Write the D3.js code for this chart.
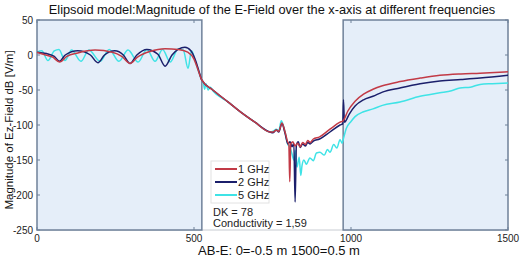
<!DOCTYPE html>
<html lang="en">
<head>
<meta charset="UTF-8">
<title>Elipsoid model E-Field</title>
<script src="https://d3js.org/d3.v7.min.js"></script>
<style>
  body { margin: 0; background: #fff; font-family: Arial, "Liberation Sans", sans-serif; }
  svg { display: block; }
  .tick-label { font-size: 10px; fill: #222; }
</style>
</head>
<body>
<svg id="svg" width="524" height="259"></svg>
<script>
// x positions (0..1500 along AB-E) and dB values for each frequency
const red1GHz = [
  [0,4],[20,1],[50,-3],[72,-10],[95,-2],[130,3],[185,7],[240,4],[270,-2],[296,-12],[320,-3],
  [360,5],[408,9],[450,8],[480,4],[500,-6],[512,-20],[525,-36],
  [560,-50],[608,-67],[650,-82],[694,-96],[742,-110],[752,-110],[762,-107],[770,-109],[780,-97],
  [790,-110],[799,-125],[802,-127],[805,-181],[808,-127],[815,-124],[822,-130],[830,-126],[838,-131],
  [846,-125],[855,-128],[862,-122],[870,-125],[880,-120],[900,-117],[933,-106],[965,-96],[975,-94],
  [990,-80],[1013,-66],[1040,-56],[1070,-49],[1100,-44],[1156,-38],[1220,-33],[1283,-29],[1350,-27],
  [1411,-26],[1500,-24]
];
const navy2GHz = [
  [0,4],[30,2],[55,-2],[72,-9],[90,0],[130,6],[170,0],[194,-11],[215,0],[248,6],[275,0],[296,-12],
  [318,0],[350,8],[385,1],[408,-16],[430,0],[471,11],[490,6],[505,-8],[515,-22],[525,-36],
  [560,-50],[608,-67],[650,-82],[694,-96],[742,-110],[752,-111],[762,-107],[770,-110],[780,-98],
  [790,-112],[799,-127],[806,-124],[812,-131],[818,-126],[822,-210],[826,-129],[832,-124],[838,-132],
  [846,-127],[855,-130],[862,-125],[870,-127],[880,-123],[900,-120],[933,-110],[965,-100],[974,-98],
  [976,-64],[979,-96],[995,-84],[1013,-73],[1040,-64],[1070,-59],[1100,-53],[1156,-47],[1220,-41],
  [1283,-37],[1350,-35],[1411,-33],[1500,-29]
];
const cyan5GHz = [
  [0,4],[15,6],[35,-8],[55,6],[70,8],[89,-8],[110,7],[140,-9],[165,7],[201,-9],[230,8],[261,-9],
  [290,7],[322,-10],[350,8],[376,-9],[400,8],[424,-10],[450,9],[466,7],[481,-19],[492,6],[505,-10],
  [515,-24],[525,-36],[530,-40],[534,-49],[538,-41],[545,-50],[552,-46],
  [560,-51],[608,-67],[650,-82],[694,-96],[742,-110],[752,-109],[762,-106],[770,-108],[778,-94],
  [790,-110],[799,-128],[805,-131],[812,-141],[818,-150],[822,-136],[828,-160],[835,-146],[840,-172],
  [844,-158],[850,-150],[858,-156],[869,-147],[880,-151],[890,-140],[901,-139],[915,-143],[925,-135],
  [933,-139],[945,-128],[955,-133],[965,-121],[972,-126],[975,-121],[985,-105],[1000,-95],[1013,-88],
  [1040,-81],[1070,-77],[1100,-72],[1156,-67],[1220,-59],[1283,-54],[1320,-51],[1347,-47],[1380,-46],
  [1411,-42],[1450,-41],[1500,-40]
];
const seriesNames = ["1 GHz", "2 GHz", "5 GHz"];
const seriesColors = ["#c23a46", "#1b1f6b", "#3fe3e6"];
const boxRanges = [[0, 525], [975, 1500]];
const xTicks = [0, 500, 1000, 1500];
const yTicks = [50, 0, -50, -100, -150, -200, -250];

const svg = d3.select("#svg");
const margin = { top: 20, right: 16, bottom: 29, left: 37 };
const width = 524, height = 259;

const x = d3.scaleLinear().domain([0, 1500]).range([margin.left, width - margin.right]);
const y = d3.scaleLinear().domain([-250, 50]).range([height - margin.bottom, margin.top]);

// title
svg.append("text")
  .attr("x", 272).attr("y", 14)
  .attr("text-anchor", "middle")
  .attr("font-size", "12.8px")
  .attr("fill", "#111")
  .text("Elipsoid model:Magnitude of the E-Field over the x-axis at different frequencies");

// bottom axis line (faint)
svg.append("line")
  .attr("x1", x(0)).attr("x2", x(1500))
  .attr("y1", y(-250)).attr("y2", y(-250))
  .attr("stroke", "#c8ccd2").attr("stroke-width", 1);

// shaded boxes
svg.selectAll("rect.box")
  .data(boxRanges)
  .enter().append("rect")
  .attr("class", "box")
  .attr("x", d => x(d[0]))
  .attr("y", y(50))
  .attr("width", d => x(d[1]) - x(d[0]))
  .attr("height", y(-250) - y(50))
  .attr("fill", "#e5eef9")
  .attr("stroke", "#6f8199")
  .attr("stroke-width", 1.5);

// inner ticks on all sides (matlab style)
const tickLen = 3;
xTicks.forEach(t => {
  svg.append("line").attr("x1", x(t)).attr("x2", x(t))
    .attr("y1", y(-250)).attr("y2", y(-250) - tickLen).attr("stroke", "#6f8199");
  svg.append("line").attr("x1", x(t)).attr("x2", x(t))
    .attr("y1", y(50)).attr("y2", y(50) + tickLen).attr("stroke", "#6f8199");
});
yTicks.forEach(t => {
  svg.append("line").attr("x1", x(0)).attr("x2", x(0) + tickLen)
    .attr("y1", y(t)).attr("y2", y(t)).attr("stroke", "#6f8199");
  svg.append("line").attr("x1", x(1500)).attr("x2", x(1500) - tickLen)
    .attr("y1", y(t)).attr("y2", y(t)).attr("stroke", "#6f8199");
});

// tick labels
svg.selectAll("text.xt")
  .data(xTicks)
  .enter().append("text")
  .attr("class", "tick-label")
  .attr("x", d => x(d))
  .attr("y", y(-250) + 12)
  .attr("text-anchor", "middle")
  .text(d => d);

svg.selectAll("text.yt")
  .data(yTicks)
  .enter().append("text")
  .attr("class", "tick-label")
  .attr("x", x(0) - 4)
  .attr("y", d => y(d) + 3.5)
  .attr("text-anchor", "end")
  .text(d => d);

// lines
const line = d3.line()
  .x(d => x(d[0]))
  .y(d => y(d[1]))
  .curve(d3.curveMonotoneX);

const allSeries = [red1GHz, navy2GHz, cyan5GHz];
// draw cyan first so red/navy are on top in the shared section
[2, 1, 0].forEach(i => {
  svg.append("path")
    .datum(allSeries[i])
    .attr("fill", "none")
    .attr("stroke", seriesColors[i])
    .attr("stroke-width", 1.5)
    .attr("d", line);
});

// legend
const lg = svg.append("g").attr("transform", "translate(211,161)");
lg.append("rect")
  .attr("width", 58).attr("height", 42)
  .attr("fill", "#fff")
  .attr("stroke", "#e2e2e2");
seriesNames.forEach((name, i) => {
  lg.append("line")
    .attr("x1", 4).attr("x2", 26)
    .attr("y1", 8 + i * 13).attr("y2", 8 + i * 13)
    .attr("stroke", seriesColors[i]).attr("stroke-width", 2);
  lg.append("text")
    .attr("x", 27).attr("y", 12 + i * 13)
    .attr("font-size", "11px").attr("fill", "#222")
    .text(name);
});

svg.append("text").attr("x", 213).attr("y", 216)
  .attr("font-size", "11px").attr("fill", "#222").text("DK = 78");
svg.append("text").attr("x", 213).attr("y", 227)
  .attr("font-size", "11px").attr("fill", "#222").text("Conductivity = 1,59");

// axis labels
svg.append("text")
  .attr("x", 279).attr("y", 255)
  .attr("text-anchor", "middle")
  .attr("font-size", "13px").attr("fill", "#111")
  .text("AB-E: 0=-0.5 m 1500=0.5 m");

svg.append("text")
  .attr("transform", "rotate(-90)")
  .attr("x", -130).attr("y", 13)
  .attr("text-anchor", "middle")
  .attr("font-size", "11.5px").attr("fill", "#111")
  .text("Magnitude of Ez-Field dB [V/m]");
</script>
</body>
</html>
